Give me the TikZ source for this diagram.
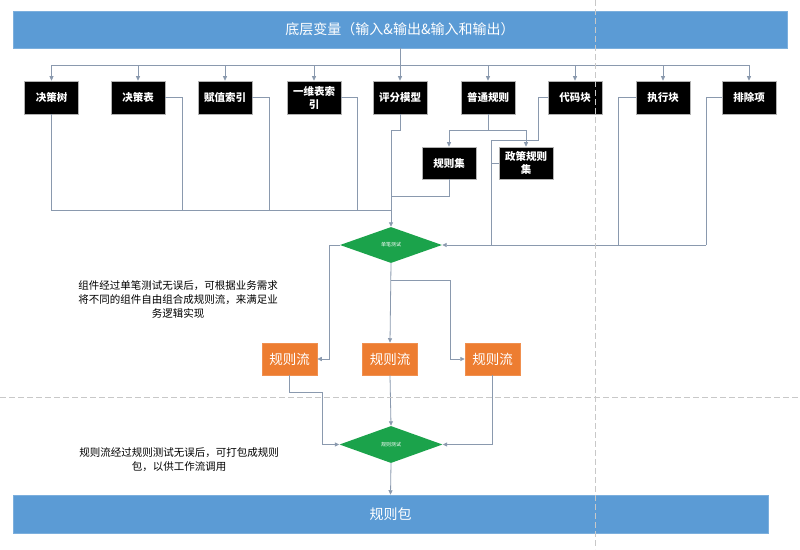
\documentclass[tikz,border=0pt]{standalone}
\usepackage{fontspec}
\setmainfont{Noto Sans CJK SC}
\usetikzlibrary{shapes.geometric,arrows.meta}
\definecolor{barblue}{HTML}{5B9BD5}
\definecolor{flowor}{HTML}{ED7D31}
\definecolor{diagreen}{HTML}{1BA34B}
\definecolor{lncol}{HTML}{8A99AE}
\definecolor{dashcol}{HTML}{C8C8C8}
\tikzset{
  bar/.style={fill=barblue, draw=barblue!80!white, line width=0.5pt, text=white, inner sep=0pt, font=\fontsize{14}{16}\selectfont},
  blk/.style={fill=black, draw=gray!60, line width=0.6pt, text=white, minimum width=54pt, minimum height=33pt, inner sep=1pt, align=center, font=\fontsize{10.5}{13}\selectfont\bfseries},
  flow/.style={fill=flowor, draw=flowor!85!white, line width=0.5pt, text=white, minimum width=55pt, minimum height=32pt, inner sep=1pt, font=\fontsize{13.5}{15}\selectfont},
  dia/.style={diamond, fill=diagreen, minimum width=102pt, minimum height=36pt, inner sep=0pt, text=white, font=\fontsize{5}{6}\selectfont},
  ln/.style={draw=lncol, line width=0.8pt},
  arr/.style={ln, -{Triangle[length=4.5pt,width=4pt]}},
  dsh/.style={draw=dashcol, line width=0.8pt, dash pattern=on 6pt off 3pt},
  note/.style={align=center, text=black, font=\fontsize{10.5}{14}\selectfont, inner sep=0pt}
}
\begin{document}
\begin{tikzpicture}[x=1pt,y=-1pt]
\useasboundingbox (0,0) rectangle (800,549);
\fill[white] (0,0) rectangle (800,549);

% bars
\node[bar, minimum width=774pt, minimum height=37pt] (top) at (400,29.5) {底层变量（输入\&输出\&输入和输出）};
\node[bar, minimum width=755pt, minimum height=38pt] (bot) at (390.5,514) {规则包};

% first row boxes
\node[blk] (b1) at (51.5,97.5) {决策树};
\node[blk] (b2) at (138,97.5) {决策表};
\node[blk] (b3) at (225,97.5) {赋值索引};
\node[blk] (b4) at (314,97.5) {一维表索\\引};
\node[blk] (b5) at (400,97.5) {评分模型};
\node[blk] (b6) at (488,97.5) {普通规则};
\node[blk] (b7) at (575,97.5) {代码块};
\node[blk] (b8) at (663,97.5) {执行块};
\node[blk] (b9) at (749,97.5) {排除项};

% second row
\node[blk, minimum height=32pt] (r1) at (449,163) {规则集};
\node[blk, minimum height=32pt] (r2) at (526,163) {政策规则\\集};

% diamonds
\node[dia] (d1) at (391,245) {单笔测试};
\node[dia, minimum width=103pt, minimum height=37pt] (d2) at (391,444.5) {规则测试};

% rule flows
\node[flow] (f1) at (289.5,359) {规则流};
\node[flow] (f2) at (390,359) {规则流};
\node[flow] (f3) at (492.5,359) {规则流};

% notes
\node[note] (n1) at (178,299) {组件经过单笔测试无误后，可根据业务需求\\将不同的组件自由组合成规则流，来满足业\\务逻辑实现};
\node[note] (n2) at (179,460) {规则流经过规则测试无误后，可打包成规则\\包，以供工作流调用};

% coordinates
\coordinate (dist) at (400,65);
\coordinate (col) at (391,210);
\coordinate (c2) at (182,210);
\coordinate (c3) at (269,210);
\coordinate (c4) at (357,210);
\coordinate (j1) at (400,130);
\coordinate (rj) at (391,196);
\coordinate (s1) at (488,130);
\coordinate (k1) at (538,140);
\coordinate (k2) at (491,245);
\coordinate (e8) at (618,245);
\coordinate (e9) at (706,245);
\coordinate (g1) at (329,359);
\coordinate (g2) at (391,280);
\coordinate (g3) at (450,359);
\coordinate (h1) at (322,392);

% distribution from top bar
\draw[ln] (top.south -| b5) -- (dist);
\draw[ln] (dist -| b1) -- (dist -| b9);
\foreach \b in {b1,b2,b3,b4,b5,b6,b7,b8,b9} {
  \draw[arr] (dist -| \b) -- (\b.north);
}

% left group into diamond 1
\draw[ln] (b1.south) -- (b1.south |- col) -- (col);
\draw[ln] (b2.east) -| (c2);
\draw[ln] (b3.east) -| (c3);
\draw[ln] (b4.east) -| (c4);
\draw[arr] (b5.south) -- (j1) -| (d1.north);
\draw[ln] (r1.south) |- (rj);

% general rules split
\draw[ln] (b6.south) -- (s1);
\draw[ln] (s1 -| r1) -- (s1 -| r2);
\draw[arr] (s1 -| r1) -- (r1.north);
\draw[arr] (s1 -| r2) -- (r2.north);

% right group into diamond 1
\draw[ln] (b7.west) -| (k1) -| (k2);
\draw[ln] (r2.west) -- (r2.west -| k2);
\draw[ln] (b8.west) -| (e8);
\draw[ln] (b9.west) -| (e9);
\draw[arr] (e9) -- (d1.east);

% diamond 1 to flows
\draw[arr] (d1.west) -| (g1) -- (f1.east);
\draw[arr] (d1.south) -- (f2.north);
\draw[arr] (g2) -| (g3) -- (f3.west);

% flows to diamond 2
\draw[arr] (f1.south) |- (h1) |- (d2.west);
\draw[arr] (f2.south) -- (d2.north);
\draw[arr] (f3.south) |- (d2.east);
\draw[arr] (d2.south) -- (bot.north);

% dashed guide lines
\draw[dsh] (595,0) -- (595,549);
\draw[dsh] (0,397) -- (800,397);
\end{tikzpicture}
\end{document}
